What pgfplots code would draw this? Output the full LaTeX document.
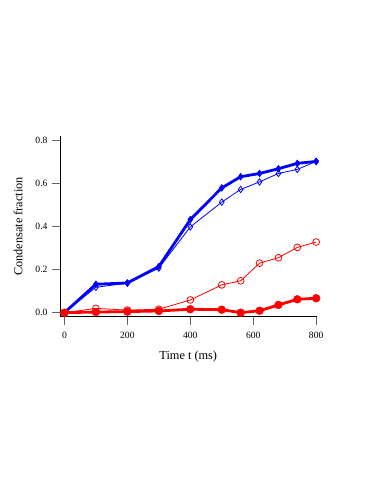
\documentclass[border=0pt]{standalone}
\usepackage{fontspec}
\setmainfont{Liberation Serif}
\usepackage{pgfplots}
\pgfplotsset{compat=1.18}

% blue: closed / open diamonds, red: open / closed circles
\pgfplotstableread{
t    bfill  bopen  ropen  rfill
0    0.000  0.000  0.000  0.000
100  0.132  0.118  0.020  0.003
200  0.138  0.137  0.012  0.005
300  0.214  0.207  0.016  0.008
400  0.432  0.398  0.059  0.016
500  0.579  0.513  0.129  0.014
560  0.631  0.572  0.148  0.000
620  0.646  0.607  0.230  0.009
680  0.668  0.646  0.255  0.036
740  0.693  0.665  0.303  0.062
800  0.702  0.702  0.328  0.067
}\cond

\begin{document}
\begin{tikzpicture}[x=1pt,y=1pt]
\useasboundingbox (0,0) rectangle (382,494);
\begin{axis}[
  at={(60pt,177.3pt)}, anchor=south west,
  scale only axis, width=256.5pt, height=180.7pt,
  xmin=-14, xmax=801, ymin=-0.0186, ymax=0.82,
  axis x line*=bottom, axis y line*=left,
  axis line style={black, line width=0.8pt},
  xtick={0,200,400,600,800},
  ytick={0,0.2,0.4,0.6,0.8},
  tick align=outside, major tick length=8pt,
  tick style={black!60, line width=0.8pt},
  /pgf/number format/assume math mode=true,
  yticklabel style={/pgf/number format/fixed, /pgf/number format/fixed zerofill, /pgf/number format/precision=1, xshift=-1pt},
  xticklabel style={yshift=-4pt},
  ticklabel style={font=\fontsize{9.6}{11}\selectfont},
  label style={font=\fontsize{12.3}{14}\selectfont},
  xlabel={Time t (ms)},
  ylabel={Condensate fraction},
  xlabel style={yshift=-5pt},
  ylabel style={yshift=6pt},
  clip=false,
]
\addplot[blue, line width=0.8pt, mark=diamond, mark size=3.2pt, mark options={line width=0.8pt}]
  table[x=t, y=bopen] {\cond};
\addplot[blue, line width=2.8pt, mark=diamond*, mark size=3.4pt, mark options={line width=0.5pt}]
  table[x=t, y=bfill] {\cond};
\addplot[red, line width=0.8pt, mark=o, mark size=3.4pt, mark options={line width=0.8pt}]
  table[x=t, y=ropen] {\cond};
\addplot[red, line width=2.8pt, mark=*, mark size=3.9pt, mark options={line width=0.5pt}]
  table[x=t, y=rfill] {\cond};
\end{axis}
\end{tikzpicture}
\end{document}
